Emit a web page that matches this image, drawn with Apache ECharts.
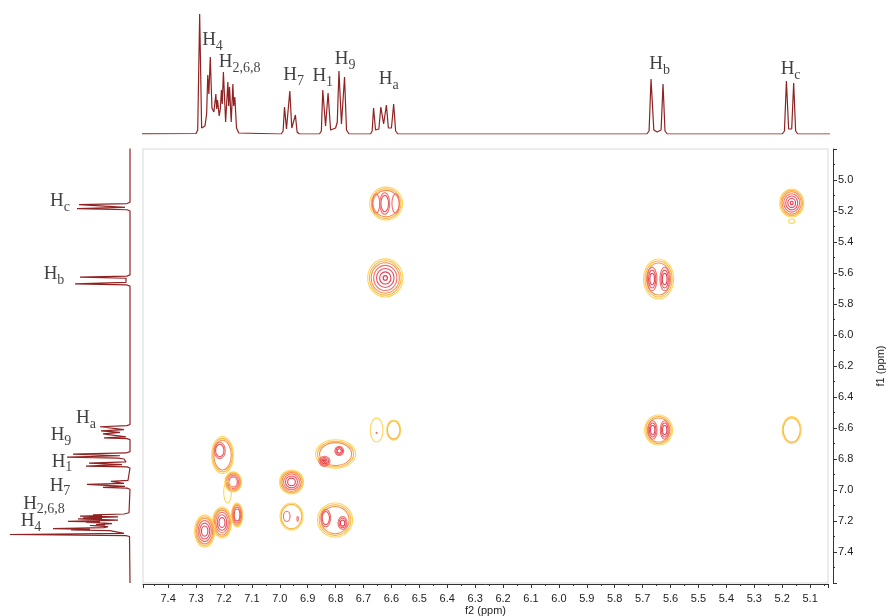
<!DOCTYPE html>
<html>
<head>
<meta charset="utf-8">
<script src="https://cdn.jsdelivr.net/npm/echarts@6/dist/echarts.min.js"></script>
<style>
  html, body { margin: 0; padding: 0; background: #ffffff; }
  #chart { width: 888px; height: 616px; }
</style>
</head>
<body>
<div id="chart"></div>
<script>
// 1H trace, [shift (ppm), intensity], high field last
const spectrum = [
  [7.60, 0], [7.300, 0.5], [7.294, 4], [7.287, 120], [7.280, 6], [7.268, 8], [7.262, 20],
  [7.258, 59], [7.254, 40], [7.249, 77], [7.243, 26], [7.236, 22], [7.229, 40], [7.226, 25],
  [7.223, 34], [7.217, 18], [7.213, 25], [7.209, 44], [7.206, 30], [7.202, 62], [7.194, 12],
  [7.186, 52], [7.183, 28], [7.180, 47], [7.174, 12], [7.168, 50], [7.165, 28], [7.161, 37],
  [7.155, 6], [7.147, 1], [7.140, 0],
  [6.995, 0], [6.988, 3], [6.983, 27], [6.976, 5], [6.969, 7], [6.964, 43], [6.957, 6],
  [6.950, 5], [6.944, 19], [6.938, 2], [6.930, 0],
  [6.858, 0], [6.851, 3], [6.846, 44], [6.836, 8], [6.827, 41], [6.818, 4], [6.800, 6],
  [6.794, 12], [6.788, 63], [6.779, 10], [6.768, 57], [6.761, 4], [6.752, 0],
  [6.675, 0], [6.669, 3], [6.664, 26], [6.657, 4], [6.645, 5], [6.638, 27], [6.628, 10],
  [6.618, 29], [6.611, 6], [6.600, 6], [6.592, 30], [6.585, 3], [6.577, 0],
  [5.685, 0], [5.677, 3], [5.670, 55], [5.660, 4], [5.648, 2], [5.634, 4], [5.627, 50],
  [5.620, 3], [5.612, 0],
  [5.200, 0], [5.192, 3], [5.185, 53], [5.177, 5], [5.172, 4], [5.166, 5], [5.159, 51],
  [5.152, 3], [5.144, 0], [4.79, 0]
];

// Proton assignments (subscripts of H)
const assignments = ['4', '2,6,8', '7', '1', '9', 'a', 'b', 'c'];
// Label anchors on the horizontal trace: [ppm, intensity]
const topLabelAnchors = [[7.241, 92], [7.144, 70], [6.950, 57], [6.846, 56], [6.766, 73], [6.610, 53], [5.639, 68], [5.170, 63]];
// Label anchors on the vertical trace: [intensity, ppm]
const sideLabelAnchors = [[99, 7.213], [86, 7.097], [70, 6.981], [68, 6.826], [69, 6.658], [44, 6.548], [76, 5.619], [70, 5.148]];

// COSY contour peaks: [f2, f1, half-width f2, half-width f1, first level, last level, tilt deg]
const crossPeaks = [
  // Ha / Hc
  [6.619, 5.152, 0.059, 0.106, 0, 2], [6.655, 5.152, 0.020, 0.095, 3, 3],
  [6.624, 5.152, 0.027, 0.105, 3, 4], [6.585, 5.152, 0.020, 0.095, 3, 3],
  // Ha / Hb
  [6.622, 5.632, 0.063, 0.123, 0, 6],
  // Hb diagonal
  [5.643, 5.639, 0.054, 0.129, 0, 2], [5.666, 5.639, 0.026, 0.115, 3, 5], [5.621, 5.639, 0.026, 0.115, 3, 5],
  // Hc diagonal
  [5.166, 5.148, 0.043, 0.090, 0, 6], [5.166, 5.266, 0.011, 0.014, 0, 0],
  // Hb / Ha
  [5.643, 6.613, 0.050, 0.097, 0, 2], [5.664, 6.613, 0.024, 0.090, 3, 5], [5.621, 6.613, 0.024, 0.090, 3, 5],
  // Hc / Ha
  [5.166, 6.613, 0.034, 0.087, 0, 1],
  // Ha diagonal
  [6.653, 6.613, 0.023, 0.077, 0, 0], [6.592, 6.613, 0.025, 0.065, 0, 1], [6.653, 6.632, 0.003, 0.006, 3, 3],
  // H9 / H1
  [6.800, 6.768, 0.072, 0.092, 0, 2, 22], [6.840, 6.815, 0.030, 0.050, 3, 6, 22], [6.787, 6.748, 0.024, 0.045, 3, 5, 22],
  // H7 diagonal
  [6.958, 6.948, 0.043, 0.077, 0, 5],
  // H7 / H2,6,8
  [6.958, 7.171, 0.041, 0.087, 0, 1], [6.975, 7.170, 0.018, 0.050, 3, 3], [6.936, 7.187, 0.004, 0.025, 3, 3],
  // H1,H9 / H2,6,8
  [6.802, 7.194, 0.063, 0.110, 0, 2], [6.835, 7.181, 0.026, 0.085, 3, 4], [6.775, 7.213, 0.025, 0.062, 3, 5],
  // H2,6,8 / H4 region
  [7.205, 6.775, 0.039, 0.120, 0, 2], [7.215, 6.745, 0.030, 0.080, 3, 4],
  [7.167, 6.948, 0.030, 0.065, 0, 4], [7.187, 7.013, 0.014, 0.070, 0, 0],
  [7.153, 7.161, 0.020, 0.077, 0, 4], [7.207, 7.210, 0.034, 0.100, 0, 5],
  [7.269, 7.265, 0.036, 0.103, 0, 5]
];

// Contour level styling, outermost first
const levelScale = [1, 0.9, 0.8, 0.66, 0.5, 0.32, 0.12];
const levelColor = ['#ffd65a', '#fbb545', '#f7914c', '#f27068', '#ec5360', '#e63e4f', '#e03a48'];

const traceColor = '#902222';
const tickColor = '#333333';
const labelFont = 'Liberation Sans';

const chart = echarts.init(document.getElementById('chart'), null, { renderer: 'canvas' });

const labelRich = {
  m: { fontFamily: 'Liberation Serif', fontSize: 19, color: '#111111', verticalAlign: 'bottom', padding: [0, 0, 3, 0] },
  s: { fontFamily: 'Liberation Serif', fontSize: 14, color: '#111111', verticalAlign: 'bottom' }
};
const labelFormatter = p => '{m|H}{s|' + p.data.sub + '}';

function ppmAxisCommon() {
  return {
    axisLine: { show: true, lineStyle: { color: tickColor, width: 1 } },
    axisTick: { show: true, length: 4, lineStyle: { color: tickColor } },
    minorTick: { show: true, splitNumber: 2, length: 2, lineStyle: { color: tickColor } },
    splitLine: { show: false },
    minorSplitLine: { show: false },
    nameMoveOverlap: false,
    nameTextStyle: { fontFamily: labelFont, fontSize: 11, color: '#222222' }
  };
}

const hiddenMark = { color: 'rgba(0,0,0,0)' };

chart.setOption({
  animation: false,
  backgroundColor: '#ffffff',
  grid: [
    { left: 143, top: 149, width: 685, height: 434, show: true, borderColor: '#d9d9d9', borderWidth: 1, backgroundColor: 'transparent', containLabel: false, outerBoundsMode: 'none' },
    { left: 143, top: 14, width: 685, height: 120, containLabel: false, outerBoundsMode: 'none' },
    { left: 10, top: 149, width: 120, height: 434, containLabel: false, outerBoundsMode: 'none' }
  ],
  xAxis: [
    Object.assign(ppmAxisCommon(), {
      gridIndex: 0, type: 'value', inverse: true, min: 5.036, max: 7.49, splitNumber: 25,
      position: 'bottom', offset: 1,
      axisLabel: {
        margin: 9, fontSize: 11, color: '#222222', fontFamily: labelFont, interval: 0,
        showMinLabel: false, showMaxLabel: false, hideOverlap: false,
        formatter: v => v.toFixed(1)
      },
      name: 'f2 (ppm)', nameLocation: 'middle', nameGap: 21
    }),
    { gridIndex: 1, type: 'value', inverse: true, min: 5.036, max: 7.49, show: false },
    { gridIndex: 2, type: 'value', inverse: true, min: 0, max: 120, show: false }
  ],
  yAxis: [
    Object.assign(ppmAxisCommon(), {
      gridIndex: 0, type: 'value', inverse: true, min: 4.8, max: 7.6, interval: 0.2,
      position: 'right', offset: 5,
      axisLabel: {
        margin: 5, fontSize: 11, color: '#222222', fontFamily: labelFont,
        showMinLabel: false, showMaxLabel: false,
        formatter: v => v.toFixed(1)
      },
      name: 'f1 (ppm)', nameLocation: 'middle', nameRotate: 90, nameGap: 42
    }),
    { gridIndex: 1, type: 'value', min: 0, max: 120, show: false },
    { gridIndex: 2, type: 'value', inverse: true, min: 4.8, max: 7.6, show: false }
  ],
  series: [
    {
      type: 'custom', xAxisIndex: 0, yAxisIndex: 0, clip: true, silent: true,
      encode: { x: 0, y: 1 },
      data: crossPeaks,
      renderItem: function (params, api) {
        const c = api.coord([api.value(0), api.value(1)]);
        const sz = api.size([api.value(2), api.value(3)]);
        const tiltDeg = api.value(6);
        const tilt = (isFinite(tiltDeg) ? tiltDeg : 0) * Math.PI / 180;
        const children = [];
        for (let i = api.value(4); i <= api.value(5); i++) {
          children.push({
            type: 'ellipse',
            shape: { cx: c[0], cy: c[1], rx: Math.abs(sz[0]) * levelScale[i], ry: Math.abs(sz[1]) * levelScale[i] },
            rotation: tilt, originX: c[0], originY: c[1],
            style: { fill: 'none', stroke: levelColor[i], lineWidth: 1.1 }
          });
        }
        return { type: 'group', children: children };
      }
    },
    {
      type: 'line', xAxisIndex: 1, yAxisIndex: 1, data: spectrum, symbol: 'none', silent: true,
      lineStyle: { color: traceColor, width: 1.2 }
    },
    {
      type: 'line', xAxisIndex: 2, yAxisIndex: 2, data: spectrum.map(p => [p[1], p[0]]), symbol: 'none', silent: true,
      lineStyle: { color: traceColor, width: 1.2 }
    },
    {
      type: 'scatter', xAxisIndex: 1, yAxisIndex: 1, symbolSize: 1, silent: true,
      itemStyle: hiddenMark,
      data: topLabelAnchors.map((a, i) => ({ value: a, sub: assignments[i] })),
      label: { show: true, position: 'inside', formatter: labelFormatter, rich: labelRich }
    },
    {
      type: 'scatter', xAxisIndex: 2, yAxisIndex: 2, symbolSize: 1, silent: true,
      itemStyle: hiddenMark,
      data: sideLabelAnchors.map((a, i) => ({ value: a, sub: assignments[i] })),
      label: { show: true, position: 'inside', formatter: labelFormatter, rich: labelRich }
    }
  ]
});
</script>
</body>
</html>
